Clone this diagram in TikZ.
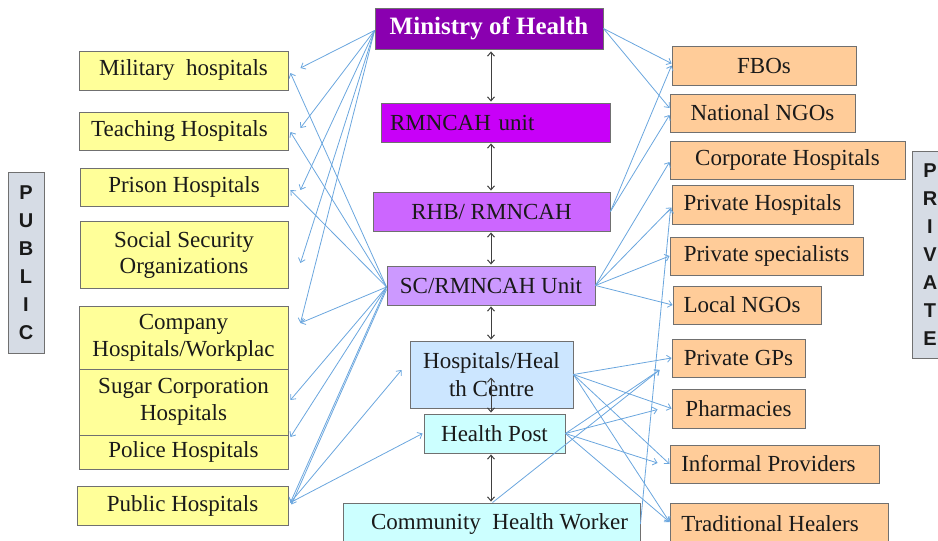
\documentclass[tikz,border=0pt]{standalone}
\usepackage{fontspec}
\setmainfont{Liberation Serif}
\setsansfont{Liberation Sans}
\usetikzlibrary{arrows.meta,calc}
\definecolor{yfill}{HTML}{FFFF99}
\definecolor{ofill}{HTML}{FFCC99}
\definecolor{mohfill}{HTML}{8A00B0}
\definecolor{rmnfill}{HTML}{C800F8}
\definecolor{rhbfill}{HTML}{CC66FF}
\definecolor{scfill}{HTML}{CC99FF}
\definecolor{hcfill}{HTML}{CCE6FF}
\definecolor{hpfill}{HTML}{CCFFFF}
\definecolor{labfill}{HTML}{D6DCE5}
\definecolor{boxline}{HTML}{707070}
\definecolor{txt}{HTML}{1A1A1A}
\definecolor{blueline}{HTML}{6AA6DE}
\definecolor{darkarrow}{HTML}{404040}
\begin{document}
\begin{tikzpicture}[x=1pt,y=-1pt,
  box/.style={draw=boxline, line width=0.9pt, inner sep=0pt, align=center,
    font=\fontsize{23}{27}\selectfont, text=txt},
  sz/.style 2 args={minimum width=#1pt, minimum height=#2pt},
  ybox/.style={box, fill=yfill},
  obox/.style={box, fill=ofill},
  labbox/.style={draw=boxline, line width=0.9pt, fill=labfill, inner sep=0pt, align=center,
    font=\sffamily\bfseries\fontsize{20}{28}\selectfont, text=txt},
  bl/.style={draw=blueline, line width=0.8pt, -{Straight Barb[length=4pt,width=7pt]}},
  vk/.style={draw=darkarrow, line width=1pt,
    {Straight Barb[length=4pt,width=7pt]}-{Straight Barb[length=4pt,width=7pt]}},
]
\useasboundingbox (0,0) rectangle (938,541);

% side labels
\node[labbox, sz={36}{181}] (publab) at (26,262.5) {P\\U\\B\\L\\I\\C};
\node[labbox, sz={36}{207}] (privlab) at (930,254.5) {P\\R\\I\\V\\A\\T\\E};

% public boxes
\node[ybox, sz={209}{39}] (mil) at (183.5,70.5) {Military\ \ hospitals};
\node[ybox, sz={209}{38}] (teach) at (183.5,131) {\hspace*{-8pt}Teaching Hospitals};
\node[ybox, sz={208}{38}] (prison) at (184,187) {Prison Hospitals};
\node[ybox, sz={208}{67}, font=\fontsize{23}{26}\selectfont] (socsec) at (184,254.5) {Social Security\\Organizations};
\node[ybox, sz={209}{63}] (company) at (183.5,337.5) {Company\\Hospitals/Workplac};
\node[ybox, sz={209}{66}] (sugar) at (183.5,402) {Sugar Corporation\\Hospitals};
\node[ybox, sz={209}{34}] (police) at (183.5,452) {Police Hospitals};
\node[ybox, sz={211}{39}] (public) at (182.5,505.5) {Public Hospitals};

% central boxes
\node[box, fill=mohfill, sz={228}{41}, text=white, font=\bfseries\fontsize{25}{28}\selectfont] (moh) at (489,28.5) {Ministry of Health};
\node[box, fill=rmnfill, sz={229}{39}, text width=211pt, align=left] (rmn) at (495.5,122.5) {RMNCAH unit};
\node[box, fill=rhbfill, sz={237}{39}] (rhb) at (491.5,211.5) {RHB/ RMNCAH};
\node[box, fill=scfill, sz={208}{39}] (sc) at (491,285.5) {SC/RMNCAH Unit};
\node[box, fill=hcfill, sz={163}{67}, font=\fontsize{23}{28}\selectfont] (hc) at (491.5,374.5) {Hospitals/Heal\\th Centre};
\node[box, fill=hpfill, sz={141}{39}] (hp) at (494.5,433.5) {Health Post};
\node[box, fill=hpfill, sz={297}{42}] (chw) at (491.5,524) {\hspace*{16pt}Community\ \ Health Worker};

% private boxes
\node[obox, sz={184}{39}] (fbo) at (764,65.5) {FBOs};
\node[obox, sz={185}{38}] (nngo) at (762.5,113) {National NGOs};
\node[obox, sz={235}{38}] (corp) at (787.5,160) {Corporate Hospitals};
\node[obox, sz={181}{39}] (privh) at (762.5,204.5) {Private Hospitals};
\node[obox, sz={193}{38}] (privs) at (766.5,256) {Private specialists};
\node[obox, sz={148}{38}] (lngo) at (747,305) {\hspace*{-10pt}Local NGOs};
\node[obox, sz={133}{38}] (gps) at (738.5,358) {Private GPs};
\node[obox, sz={133}{39}] (pharm) at (738.5,408.5) {Pharmacies};
\node[obox, sz={209}{38}] (inf) at (774.5,464) {\hspace*{-12pt}Informal Providers};
\node[obox, sz={218}{42}] (trad) at (779,524) {\hspace*{-18pt}Traditional Healers};

% vertical black arrows
\draw[vk] ($(sc.north |- moh.south)+(0,2)$) -- ($(sc.north |- rmn.north)+(0,-1)$);
\draw[vk] ($(sc.north |- rmn.south)+(0,1)$) -- ($(sc.north |- rhb.north)+(0,-1)$);
\draw[vk] ($(sc.north |- rhb.south)+(0,1)$) -- ($(sc.north)+(0,-1)$);
\draw[vk] ($(sc.south)+(0,1)$) -- ($(sc.south |- hc.north)+(0,-1)$);
\draw[vk] ($(sc.south |- hc.center)+(0,3)$) -- ($(sc.south |- hp.north)+(0,-1)$);
\draw[vk] ($(sc.south |- hp.south)+(0,1)$) -- ($(sc.south |- chw.north)+(0,-1)$);

% Ministry to public side
\draw[bl] ($(moh.west)+(0,2)$) -- ($(mil.east)+(12,-2.5)$);
\draw[bl] ($(moh.west)+(0,2)$) -- ($(teach.east)+(12,-3)$);
\draw[bl] ($(moh.west)+(0,2)$) -- ($(prison.east)+(12,3)$);
\draw[bl] ($(moh.west)+(0,2)$) -- ($(socsec.east)+(12,8.5)$);
\draw[bl] ($(moh.west)+(0,2)$) -- ($(company.east)+(12,-14.5)$);

% SC to public side
\draw[bl] ($(sc.west)+(0,1.5)$) -- ($(mil.east)+(2,2.5)$);
\draw[bl] ($(sc.west)+(0,1.5)$) -- ($(teach.east)+(2,1)$);
\draw[bl] ($(sc.west)+(0,1.5)$) -- ($(prison.east)+(2,3)$);
\draw[bl] ($(sc.west)+(0,1.5)$) -- ($(company.east)+(12,-14.5)$);
\draw[bl] ($(sc.west)+(0,1.5)$) -- ($(sugar.east)+(2,-2)$);
\draw[bl] ($(sc.west)+(0,1.5)$) -- ($(police.east)+(2,-15)$);
\draw[bl] ($(sc.west)+(0,1.5)$) -- ($(public.east)+(2,-3)$);
\draw[bl] ($(sc.west)+(0,4)$) -- ($(public.east)+(3,-1)$);

% Public hospitals to HC / HP
\draw[bl] ($(public.east)+(2,-3)$) -- ($(hc.west)+(-8,-4.5)$);
\draw[bl] ($(public.east)+(2,-3)$) -- ($(hp.west)+(-1,0)$);

% Ministry / RHB to private side
\draw[bl] (moh.east) -- ($(fbo.west)+(0,-2)$);
\draw[bl] (moh.east) -- ($(nngo.west)+(0,-5)$);
\draw[bl] (rhb.east) -- (fbo.west);
\draw[bl] (rhb.east) -- ($(nngo.west)+(0,2)$);

% SC to private side
\draw[bl] (sc.east) -- ($(corp.west)+(0,2)$);
\draw[bl] (sc.east) -- ($(privh.west)+(0,3)$);
\draw[bl] (sc.east) -- (privs.west);
\draw[bl] (sc.east) -- (lngo.west);

% CHW to private side
\draw[bl] (chw.east) -- ($(privh.west)+(-1,4)$);
\draw[bl] ($(chw.north)+(1,0)$) -- ($(gps.west)+(-12,12)$);

% HC to private side
\draw[bl] (hc.east) -- (gps.west);
\draw[bl] (hc.east) -- (pharm.west);
\draw[bl] (hc.east) -- (inf.west);
\draw[bl] (hc.east) -- ($(trad.west)+(0,-2)$);

% HP to private side
\draw[bl] (hp.east) -- ($(gps.west)+(-12,12)$);
\draw[bl] (hp.east) -- ($(pharm.west)+(-14,1)$);
\draw[bl] (hp.east) -- ($(inf.west)+(-12,-1)$);
\draw[bl] (hp.east) -- ($(trad.west)+(0,-2)$);
\end{tikzpicture}
\end{document}
